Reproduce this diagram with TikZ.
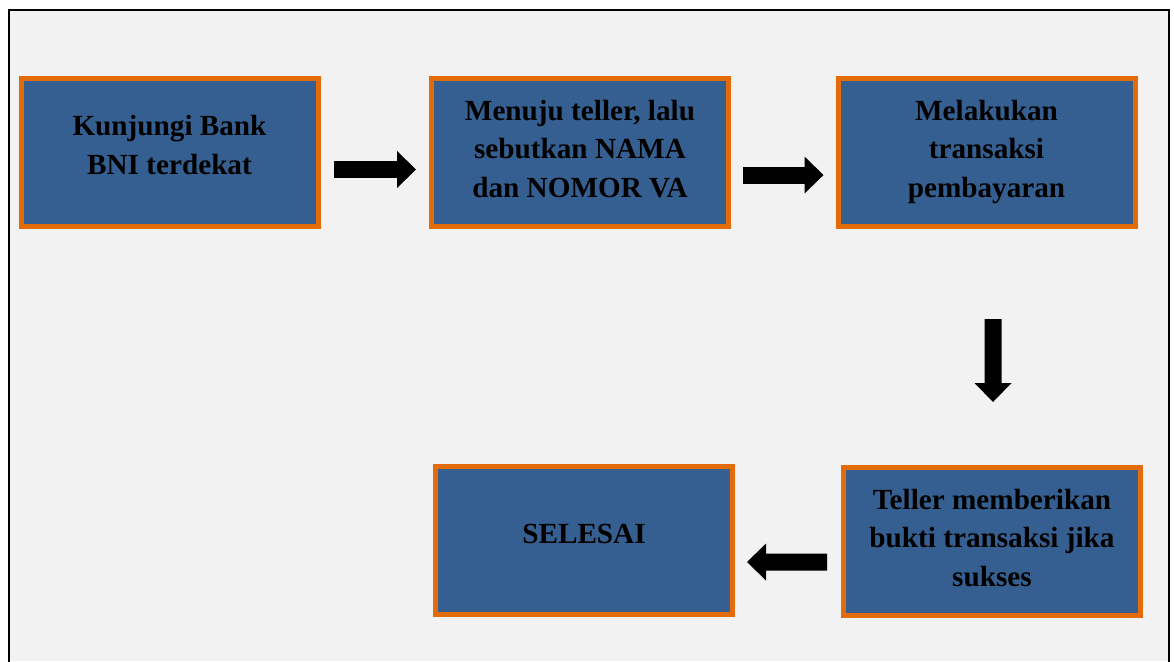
\documentclass[tikz,border=0pt]{standalone}
\usepackage{fontspec}
\setmainfont{Liberation Serif}
\usetikzlibrary{arrows.meta, positioning}

\definecolor{boxblue}{HTML}{365F91}
\definecolor{boxorange}{HTML}{E36C09}
\definecolor{pagegray}{HTML}{F2F2F2}

\tikzset{
  boxbase/.style={draw=boxorange, fill=boxblue, line width=3.75pt, minimum width=222.75pt,
    minimum height=111pt, align=center, inner sep=0pt,
    font=\fontsize{21.9pt}{29.25pt}\selectfont\bfseries},
  stepbox/.style={boxbase,
    execute at begin node={\rule{0pt}{17pt}},
    execute at end node={\rule[-12pt]{0pt}{12pt}}},
  tallbox/.style={boxbase, font=\fontsize{21.9pt}{28.9pt}\selectfont\bfseries,
    execute at end node={\rule[-6pt]{0pt}{6pt}}},
  flow/.style={line width=12.75pt, -{Triangle[length=14.25pt, width=27.75pt, line width=0pt]}}
}

\begin{document}
\begin{tikzpicture}[x=0.75pt, y=-0.75pt]
\useasboundingbox (0,0) rectangle (1174,661);
\fill[pagegray] (8.5,9.5) rectangle (1169,661);
\draw[line width=1.5pt] (8.5,664) -- (8.5,9.5) -- (1169,9.5) -- (1169,664);

\node[stepbox] (kunjungi) at (169.5,152.5) {Kunjungi Bank\\BNI terdekat};
\node[tallbox] (teller) at (580,152.5) {Menuju teller, lalu\\sebutkan NAMA\\dan NOMOR VA};
\node[tallbox] (transaksi) at (986.5,152.5) {Melakukan\\transaksi\\pembayaran};
\node[tallbox] (bukti) at (992,541.5) {Teller memberikan\\bukti transaksi jika\\sukses};
\node[stepbox] (selesai) at (584,540) {SELESAI};

% panah antar langkah
\draw[flow] ([xshift=9.75pt, yshift=-12.75pt]kunjungi.east) -- ([xshift=-9.75pt, yshift=-12.75pt]teller.west);
\draw[flow] ([xshift=9pt, yshift=-16.9pt]teller.east) -- ([xshift=-9pt, yshift=-16.9pt]transaksi.west);
\draw[flow] ([xshift=4.9pt, yshift=-67.5pt]transaksi.south) -- ([xshift=0.75pt, yshift=47.25pt]bukti.north);
\draw[flow] ([xshift=-10.5pt, yshift=-15.4pt]bukti.west) -- ([xshift=9pt, yshift=-16.5pt]selesai.east);

\end{tikzpicture}
\end{document}
